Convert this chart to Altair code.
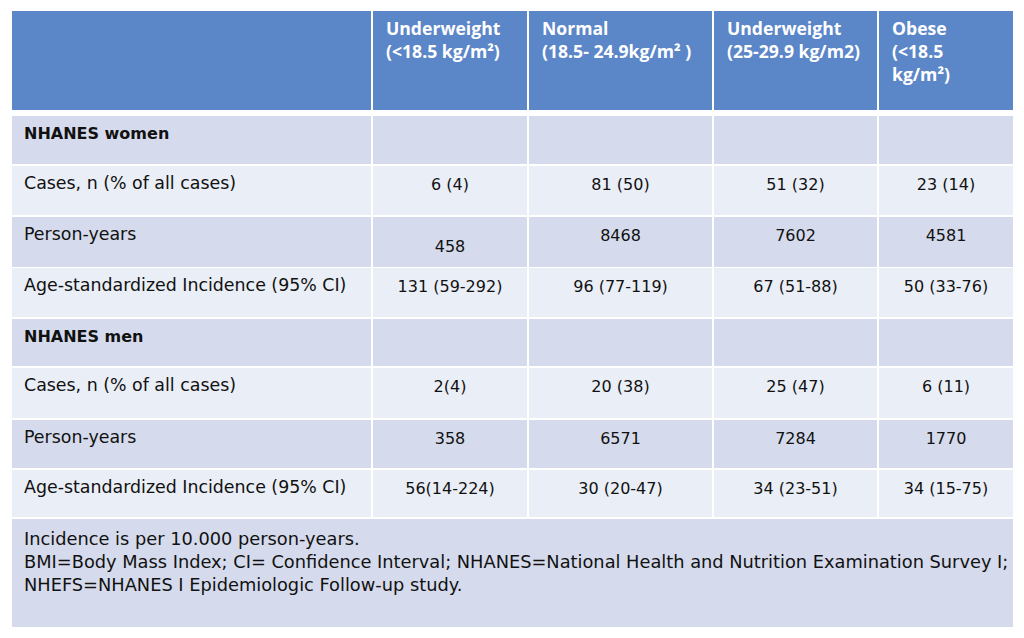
import altair as alt
import pandas as pd

# ---------------- data ----------------
header_titles = ["Underweight", "Normal", "Underweight", "Obese"]
header_ranges = [["(<18.5 kg/m²)"], ["(18.5- 24.9kg/m² )"], ["(25-29.9 kg/m2)"], ["(<18.5", "kg/m²)"]]

row_labels = [
    "NHANES women",
    "Cases, n (% of all cases)",
    "Person-years",
    "Age-standardized Incidence (95% CI)",
    "NHANES men",
    "Cases, n (% of all cases)",
    "Person-years",
    "Age-standardized Incidence (95% CI)",
]
row_is_title = [True, False, False, False, True, False, False, False]

women_cases = ["6 (4)", "81 (50)", "51 (32)", "23 (14)"]
women_person_years = ["458", "8468", "7602", "4581"]
women_incidence = ["131 (59-292)", "96 (77-119)", "67 (51-88)", "50 (33-76)"]
men_cases = ["2(4)", "20 (38)", "25 (47)", "6 (11)"]
men_person_years = ["358", "6571", "7284", "1770"]
men_incidence = ["56(14-224)", "30 (20-47)", "34 (23-51)", "34  (15-75)"]

footnotes = [
    "Incidence is per 10.000 person-years.",
    "BMI=Body Mass Index; CI= Confidence Interval; NHANES=National Health and Nutrition Examination Survey I;",
    "NHEFS=NHANES I Epidemiologic Follow-up study.",
]

# ---------------- layout (page pixels) ----------------
COL_X0 = [12, 373, 529, 714, 879]
COL_X1 = [371, 527, 712, 877, 1013]
HEADER_Y = (11, 110)
ROW_Y = [(116, 164), (166, 215), (217, 267), (268, 317),
         (319, 366), (368, 418), (420, 468), (470, 517)]
FOOTER_Y = (519, 627)
ROW_FILL = ["#d5dbec", "#eaeef6", "#d5dbec", "#eaeef6",
            "#d5dbec", "#eaeef6", "#d5dbec", "#eaeef6"]
HEADER_FILL = "#5b86c8"
FOOTER_FILL = "#d5dbec"

value_rows = [None, women_cases, women_person_years, women_incidence,
              None, men_cases, men_person_years, men_incidence]
# small vertical offset of individual cells (458 sits lower in the source)
value_dy = {(2, 0): 11}

# ---------------- build tables ----------------
rects = []
for j in range(5):
    rects.append(dict(x=COL_X0[j], x2=COL_X1[j], y=HEADER_Y[0], y2=HEADER_Y[1], fill=HEADER_FILL))
for i, (y0, y1) in enumerate(ROW_Y):
    for j in range(5):
        rects.append(dict(x=COL_X0[j], x2=COL_X1[j], y=y0, y2=y1, fill=ROW_FILL[i]))
rects.append(dict(x=COL_X0[0], x2=COL_X1[-1], y=FOOTER_Y[0], y2=FOOTER_Y[1], fill=FOOTER_FILL))
rect_df = pd.DataFrame(rects)

head = []
for j in range(4):
    lines = [header_titles[j]] + header_ranges[j]
    for k, t in enumerate(lines):
        head.append(dict(x=COL_X0[j + 1] + 13, y=30 + 23 * k, text=t))
head_df = pd.DataFrame(head)

labels, titles = [], []
for i, lab in enumerate(row_labels):
    d = dict(x=24, y=ROW_Y[i][0] + 18, text=lab)
    (titles if row_is_title[i] else labels).append(d)
label_df = pd.DataFrame(labels)
title_df = pd.DataFrame(titles)

vals = []
for i, vr in enumerate(value_rows):
    if vr is None:
        continue
    for j, v in enumerate(vr):
        cx = (COL_X0[j + 1] + COL_X1[j + 1]) / 2
        vals.append(dict(x=cx, y=ROW_Y[i][0] + 19 + value_dy.get((i, j), 0), text=v))
val_df = pd.DataFrame(vals)

foot_df = pd.DataFrame([dict(x=24, y=FOOTER_Y[0] + 21 + 23 * k, text=t) for k, t in enumerate(footnotes)])

# ---------------- chart ----------------
W, H = 1008, 622
xs = alt.Scale(domain=[8, 8 + W])
ys = alt.Scale(domain=[8, 8 + H], reverse=True)
X = alt.X("x:Q", scale=xs, axis=None)
Y = alt.Y("y:Q", scale=ys, axis=None)

BODY_FONT = "DejaVu Sans"
INK = "#111111"

rect_layer = alt.Chart(rect_df).mark_rect().encode(
    x=X, x2="x2:Q", y=Y, y2="y2:Q",
    color=alt.Color("fill:N", scale=None, legend=None),
)

head_layer = alt.Chart(head_df).mark_text(
    align="left", baseline="middle", font="Open Sans", fontWeight="bold",
    fontSize=17.6, color="white",
).encode(x=X, y=Y, text="text:N")

title_layer = alt.Chart(title_df).mark_text(
    align="left", baseline="middle", font=BODY_FONT, fontWeight="bold",
    fontSize=16, color=INK,
).encode(x=X, y=Y, text="text:N")

label_layer = alt.Chart(label_df).mark_text(
    align="left", baseline="middle", font=BODY_FONT,
    fontSize=17.4, color=INK,
).encode(x=X, y=Y, text="text:N")

val_layer = alt.Chart(val_df).mark_text(
    align="center", baseline="middle", font=BODY_FONT,
    fontSize=16, color=INK,
).encode(x=X, y=Y, text="text:N")

foot_layer = alt.Chart(foot_df).mark_text(
    align="left", baseline="middle", font=BODY_FONT,
    fontSize=17.8, color=INK,
).encode(x=X, y=Y, text="text:N")

chart = alt.layer(
    rect_layer, head_layer, title_layer, label_layer, val_layer, foot_layer
).properties(
    width=W, height=H, autosize=alt.AutoSizeParams(type="none"), padding=0,
    background="white",
).configure_view(stroke=None)

chart.save("out.html", embed_options={"renderer": "svg", "actions": False})
